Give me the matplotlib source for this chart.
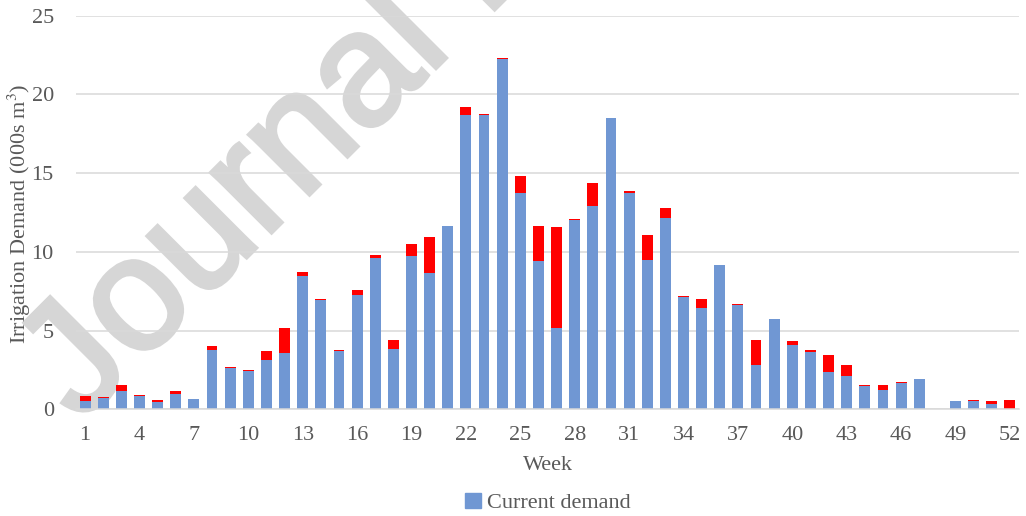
import matplotlib
matplotlib.use("Agg")
import matplotlib.pyplot as plt
import matplotlib.patheffects as pe
from matplotlib.patches import Patch

# Weekly irrigation demand (thousand m3)
weeks = list(range(1, 53))
current_demand = [
    0.53, 0.74, 1.19, 0.87, 0.49, 0.97, 0.64, 3.79, 2.63, 2.44,
    3.16, 3.60, 8.45, 6.93, 3.71, 7.29, 9.58, 3.86, 9.72, 8.67,
    11.65, 18.71, 18.69, 22.22, 13.75, 9.41, 5.17, 12.03, 12.90, 18.50,
    13.77, 9.47, 12.16, 7.14, 6.44, 9.19, 6.61, 2.82, 5.74, 4.11,
    3.67, 2.35, 2.10, 1.48, 1.23, 1.67, 1.93, 0.0, 0.53, 0.53,
    0.36, 0.0,
]
additional_demand = [
    0.32, 0.04, 0.36, 0.04, 0.12, 0.20, 0.04, 0.26, 0.04, 0.04,
    0.53, 1.55, 0.26, 0.08, 0.06, 0.27, 0.23, 0.53, 0.77, 2.26,
    0.0, 0.46, 0.04, 0.11, 1.10, 2.26, 6.40, 0.07, 1.46, 0.0,
    0.09, 1.59, 0.62, 0.08, 0.57, 0.0, 0.08, 1.57, 0.0, 0.21,
    0.10, 1.08, 0.72, 0.07, 0.30, 0.07, 0.0, 0.0, 0.0, 0.06,
    0.17, 0.61,
]
xtick_weeks = list(range(1, 53, 3))
yticks = [0, 5, 10, 15, 20, 25]

W, H = 1026, 516
fig = plt.figure(figsize=(W / 100, H / 100), dpi=100)
ax = fig.add_axes([76 / W, 1 - 409.3 / H, (1019 - 76) / W, (409.3 - 15.7) / H])
ax.patch.set_visible(False)

blue = "#7097d3"
red = "#ff0000"
grey_text = "#595959"
serif = "Liberation Serif"

ax.bar(weeks, current_demand, width=0.6, color=blue, zorder=2)
ax.bar(weeks, additional_demand, width=0.6, bottom=current_demand,
       color=red, zorder=2)

ax.set_xlim(0.5, 52.5)
ax.set_ylim(0, 25)
ax.set_yticks(yticks)
ax.set_xticks(xtick_weeks)
ax.grid(axis="y", color="#d9d9d9", linewidth=1.1, zorder=0)
ax.set_axisbelow(True)
for side in ("top", "right", "left"):
    ax.spines[side].set_visible(False)
ax.spines["bottom"].set_color("#d9d9d9")
ax.spines["bottom"].set_linewidth(1.1)

ax.tick_params(axis="both", length=0, labelsize=16, labelcolor=grey_text)
ax.tick_params(axis="x", pad=12)
ax.tick_params(axis="y", pad=16)
for lab in ax.get_xticklabels() + ax.get_yticklabels():
    lab.set_fontfamily(serif)

fig.text(19 / W, 1 - 214 / H, "Irrigation Demand (000s m$^{3}$)", rotation=90,
         ha="center", va="center", fontsize=16, color=grey_text,
         family=serif, math_fontfamily="stix")
fig.text(548 / W, 1 - 466 / H, "Week", ha="center", va="center",
         fontsize=16, color=grey_text, family=serif)

fig.legend(handles=[Patch(color=blue, label="Current demand")],
           loc="center", bbox_to_anchor=(548 / W, 1 - 503 / H),
           frameon=False, prop={"family": serif, "size": 16},
           labelcolor=grey_text, handlelength=0.7, handleheight=0.7,
           handletextpad=0.3)

# Pre-proof watermark behind the plot
wm_color = "#d6d6d6"
fig.text(80 / W, 1 - 424 / H, "Journal Pre-proof", rotation=45,
         rotation_mode="anchor", ha="left", va="baseline",
         fontsize=116, family="Liberation Sans", color=wm_color,
         zorder=-1,
         path_effects=[pe.withStroke(linewidth=3, foreground=wm_color,
                                     joinstyle="miter")])

fig.savefig("out.png", dpi=100)
